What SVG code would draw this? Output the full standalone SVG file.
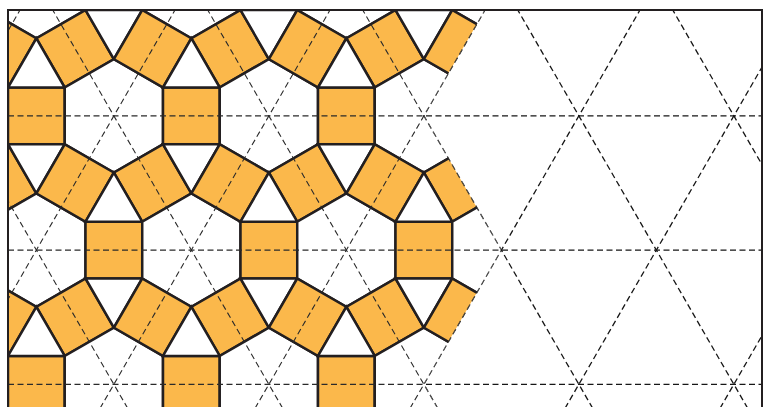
<svg xmlns="http://www.w3.org/2000/svg" xmlns:xlink="http://www.w3.org/1999/xlink" width="768" height="407" viewBox="0 0 768 407">
  <style>
    .hex { fill: #ffffff; stroke: #231f20; stroke-width: 2.5; stroke-linejoin: miter; }
    .sq { fill: #fbb84b; stroke: #231f20; stroke-width: 2.5; stroke-linejoin: miter; }
    .tri { fill: #ffffff; stroke: #231f20; stroke-width: 2.5; stroke-linejoin: miter; }
    .grid-in { fill: none; stroke: #2a2a2a; stroke-width: 1.1; stroke-dasharray: 6 3.5; }
    .grid-out { fill: none; stroke: #161616; stroke-width: 1.3; stroke-dasharray: 6 3.5; }
    .frame { fill: none; stroke: #231f20; stroke-width: 2; }
  </style>
  <defs>
    <g id="cell">
      <polygon class="hex" points="0,-56.734 49.133,-28.367 49.133,28.367 0,56.734 -49.133,28.367 -49.133,-28.367"/>
      <rect class="sq" x="49.133" y="-28.367" width="56.734" height="56.734"/>
      <rect class="sq" x="49.133" y="-28.367" width="56.734" height="56.734" transform="rotate(60)"/>
      <rect class="sq" x="49.133" y="-28.367" width="56.734" height="56.734" transform="rotate(-60)"/>
      <polygon class="tri" points="49.133,28.367 105.867,28.367 77.5,77.5"/>
      <polygon class="tri" points="49.133,-28.367 105.867,-28.367 77.5,-77.5"/>
    </g>
    <g id="lattice">
      <line x1="8" y1="115.867" x2="762" y2="115.867"/>
      <line x1="8" y1="250.1" x2="762" y2="250.1"/>
      <line x1="8" y1="384.335" x2="762" y2="384.335"/>
      <line x1="-108.03" y1="0" x2="134.46" y2="420"/>
      <line x1="46.97" y1="0" x2="289.46" y2="420"/>
      <line x1="201.97" y1="0" x2="444.46" y2="420"/>
      <line x1="356.97" y1="0" x2="599.46" y2="420"/>
      <line x1="511.97" y1="0" x2="754.46" y2="420"/>
      <line x1="666.97" y1="0" x2="909.46" y2="420"/>
      <line x1="25.76" y1="0" x2="-216.73" y2="420"/>
      <line x1="180.76" y1="0" x2="-61.73" y2="420"/>
      <line x1="335.76" y1="0" x2="93.27" y2="420"/>
      <line x1="490.76" y1="0" x2="248.27" y2="420"/>
      <line x1="645.76" y1="0" x2="403.27" y2="420"/>
      <line x1="800.76" y1="0" x2="558.27" y2="420"/>
      <line x1="955.76" y1="0" x2="713.27" y2="420"/>
    </g>
    <clipPath id="tiled">
      <polygon points="8,10 484.99,10 423.867,115.867 501.367,250.1 423.867,384.335 501.367,518.57 8,518.57"/>
    </clipPath>
    <clipPath id="empty">
      <polygon points="484.99,10 762,10 762,518.57 501.367,518.57 423.867,384.335 501.367,250.1 423.867,115.867"/>
    </clipPath>
  </defs>

  <g id="tiling" clip-path="url(#tiled)">
    <use xlink:href="#cell" href="#cell" x="36.367" y="-18.367"/>
    <use xlink:href="#cell" href="#cell" x="191.367" y="-18.367"/>
    <use xlink:href="#cell" href="#cell" x="346.367" y="-18.367"/>
    <use xlink:href="#cell" href="#cell" x="501.367" y="-18.367"/>
    <use xlink:href="#cell" href="#cell" x="-41.133" y="115.867"/>
    <use xlink:href="#cell" href="#cell" x="113.867" y="115.867"/>
    <use xlink:href="#cell" href="#cell" x="268.867" y="115.867"/>
    <use xlink:href="#cell" href="#cell" x="423.867" y="115.867"/>
    <use xlink:href="#cell" href="#cell" x="36.367" y="250.1"/>
    <use xlink:href="#cell" href="#cell" x="191.367" y="250.1"/>
    <use xlink:href="#cell" href="#cell" x="346.367" y="250.1"/>
    <use xlink:href="#cell" href="#cell" x="501.367" y="250.1"/>
    <use xlink:href="#cell" href="#cell" x="-41.133" y="384.335"/>
    <use xlink:href="#cell" href="#cell" x="113.867" y="384.335"/>
    <use xlink:href="#cell" href="#cell" x="268.867" y="384.335"/>
    <use xlink:href="#cell" href="#cell" x="423.867" y="384.335"/>
  </g>

  <g id="connectors">
    <use xlink:href="#lattice" href="#lattice" class="grid-in" clip-path="url(#tiled)"/>
    <use xlink:href="#lattice" href="#lattice" class="grid-out" clip-path="url(#empty)"/>
  </g>

  <rect id="frame" class="frame" x="8" y="10" width="754" height="430"/>
</svg>
